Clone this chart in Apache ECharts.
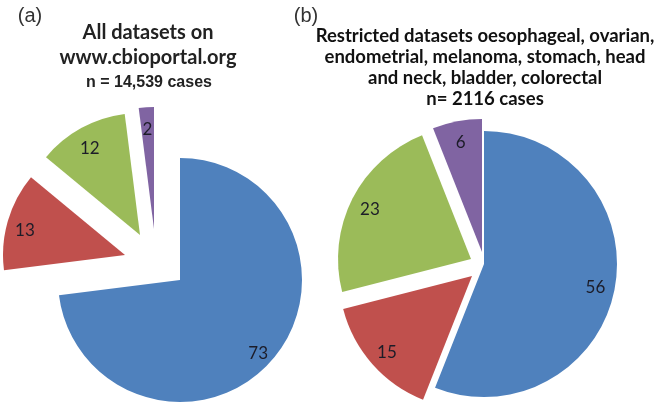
<!DOCTYPE html>
<html><head><meta charset="utf-8">
<script src="https://cdn.jsdelivr.net/npm/echarts@6/dist/echarts.min.js"></script>
<style>html,body{margin:0;padding:0;background:#fff}#c{width:663px;height:406px}</style>
</head><body><div id="c"></div>
<script>
const categories = ['Group 1', 'Group 2', 'Group 3', 'Group 4'];
const valuesA = [73, 13, 12, 2];
const valuesB = [56, 15, 23, 6];
const panelLabels = ['(a)', '(b)'];
const titleA = ['All datasets on', 'www.cbioportal.org'];
const subtitleA = 'n = 14,539 cases';
const titleB = ['Restricted datasets oesophageal, ovarian,', 'endometrial, melanoma, stomach, head', 'and neck, bladder, colorectal', 'n= 2116 cases'];

const colors = ['#4F81BD', '#C0504D', '#9BBB59', '#8064A2'];
const layoutA = { center: [180, 280], r: 122, offsets: [[0, 0], [-55, -25], [-40, -45], [-26, -51]], labelOffset: [0, 5] };
const layoutB = { center: [484, 264], r: 133, offsets: [[0, 0], [-12, 12], [-13, -5], [-2, -12]], labelOffset: [0, 2] };

function sliceSeries(values, layout) {
  const out = [];
  values.forEach((v, i) => {
    const c = [layout.center[0] + layout.offsets[i][0], layout.center[1] + layout.offsets[i][1]];
    const mk = (labelOnly) => values.map((val, j) => ({
      name: categories[j], value: val,
      itemStyle: { color: (j === i && !labelOnly) ? colors[j] : 'rgba(0,0,0,0)', borderWidth: 0 },
      label: { show: j === i && labelOnly }
    }));
    const common = { type: 'pie', center: c, startAngle: 90, clockwise: true, silent: true, animation: false,
      avoidLabelOverlap: false, emphasis: { disabled: true }, labelLine: { show: false } };
    out.push(Object.assign({}, common, { radius: [0, layout.r], label: { show: false }, data: mk(false) }));
    out.push(Object.assign({}, common, { radius: [layout.r * 0.66, layout.r],
      label: { show: true, position: 'inside', formatter: '{c}', fontFamily: 'Lato', fontSize: 17, color: '#1c1c28', offset: layout.labelOffset },
      data: mk(true) }));
  });
  return out;
}

const chart = echarts.init(document.getElementById('c'), null, { renderer: 'canvas' });
chart.setOption({
  animation: false,
  backgroundColor: '#ffffff',
  series: sliceSeries(valuesA, layoutA).concat(sliceSeries(valuesB, layoutB)),
  graphic: [
    { type: 'text', x: 30, y: 16, style: { text: panelLabels[0], font: '20px "Liberation Sans"', fill: '#333', textAlign: 'center', textVerticalAlign: 'middle' } },
    { type: 'text', x: 306, y: 16, style: { text: panelLabels[1], font: '20px "Liberation Sans"', fill: '#333', textAlign: 'center', textVerticalAlign: 'middle' } },
    { type: 'text', x: 148, y: 45, style: { text: titleA.join('\n'), font: 'bold 20px Lato', lineHeight: 25, fill: '#222', textAlign: 'center', textVerticalAlign: 'middle' } },
    { type: 'text', x: 149, y: 83, style: { text: subtitleA, font: 'bold 16px "Liberation Sans"', fill: '#222', textAlign: 'center', textVerticalAlign: 'middle' } },
    { type: 'text', x: 485, y: 68, style: { text: titleB.join('\n'), font: 'bold 18.5px Lato', lineHeight: 21, fill: '#111', textAlign: 'center', textVerticalAlign: 'middle' } }
  ]
});
</script></body></html>
